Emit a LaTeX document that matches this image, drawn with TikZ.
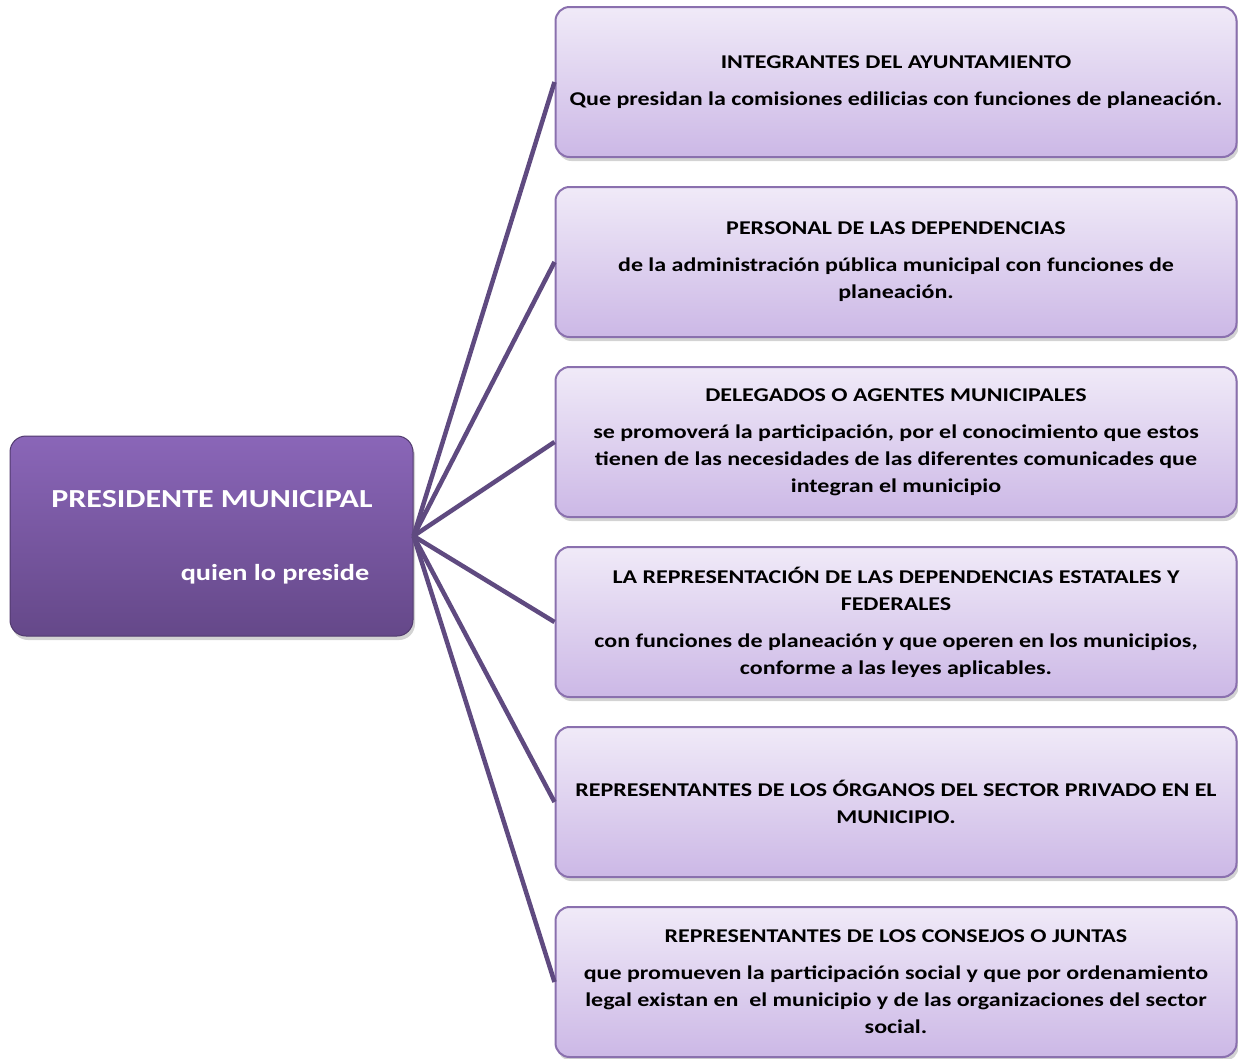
\documentclass[tikz,border=0pt]{standalone}
\usepackage{fontspec}
\setmainfont{Carlito}[FakeStretch=1.23]
\usetikzlibrary{shadows}
\definecolor{lineviolet}{HTML}{5F4A80}
\definecolor{boxedge}{HTML}{8A70AE}
\definecolor{boxtop}{HTML}{F0EAF8}
\definecolor{boxbottom}{HTML}{CCB8E6}
\definecolor{presitop}{HTML}{8A66B8}
\definecolor{presibottom}{HTML}{654889}
\begin{document}
\begin{tikzpicture}[x=1pt,y=-1pt]
      % Define styles for nodes
      \tikzstyle{member} = [draw=boxedge, line width=2pt, rounded corners=14pt,
      rectangle, minimum width=681pt, minimum height=150pt,
      top color=boxtop, bottom color=boxbottom, align=center,
      drop shadow={opacity=0.35, shadow xshift=2pt, shadow yshift=-4pt},
      font=\fontsize{19.5}{27}\selectfont\bfseries]
      \tikzstyle{president} = [draw=presibottom!80!black, line width=1pt,
      rounded corners=16pt, rectangle, minimum width=403pt, minimum height=200pt,
      top color=presitop, bottom color=presibottom,
      drop shadow={opacity=0.35, shadow xshift=2pt, shadow yshift=-4pt}]
      \tikzstyle{link} = [lineviolet, line width=4.5pt]

      \useasboundingbox (0,0) rectangle (1238,1058);

      % Left box
      \node[president] (presi) at (211.5,536) {};
      \node[text=white, font=\fontsize{26}{30}\selectfont\bfseries] (presiname)
      at (212,499) {PRESIDENTE MUNICIPAL};
      \node[text=white, font=\fontsize{23}{28}\selectfont\bfseries] (presirole)
      at (275,574) {quien lo preside};

      % Boxes at right
      \node[member] (ayunt) at (896,82) {INTEGRANTES DEL AYUNTAMIENTO\\[10pt]
      Que presidan la comisiones edilicias con funciones de planeación.};
      \node[member] (personal) at (896,262) {PERSONAL DE LAS DEPENDENCIAS\\[10pt]
      de la administración pública municipal con funciones de\\ planeación.};
      \node[member] (delegados) at (896,442) {DELEGADOS O AGENTES MUNICIPALES\\[10pt]
      se promoverá la participación, por el conocimiento que estos\\
      tienen de las necesidades de las diferentes comunicades que\\
      integran el municipio};
      \node[member] (estatales) at (896,622) {LA REPRESENTACIÓN DE LAS DEPENDENCIAS ESTATALES Y\\
      FEDERALES\\[10pt]
      con funciones de planeación y que operen en los municipios,\\
      conforme a las leyes aplicables.};
      \node[member] (privado) at (896,802) {REPRESENTANTES DE LOS ÓRGANOS DEL SECTOR PRIVADO EN EL\\
      MUNICIPIO.};
      \node[member] (consejos) at (896,982) {REPRESENTANTES DE LOS CONSEJOS O JUNTAS\\[10pt]
      que promueven la participación social y que por ordenamiento\\
      legal existan en \ el municipio y de las organizaciones del sector\\
      social.};

      % Connections
      \draw[link] (presi.east) -- (ayunt.west);
      \draw[link] (presi.east) -- (personal.west);
      \draw[link] (presi.east) -- (delegados.west);
      \draw[link] (presi.east) -- (estatales.west);
      \draw[link] (presi.east) -- (privado.west);
      \draw[link] (presi.east) -- (consejos.west);
    \end{tikzpicture}
\end{document}
